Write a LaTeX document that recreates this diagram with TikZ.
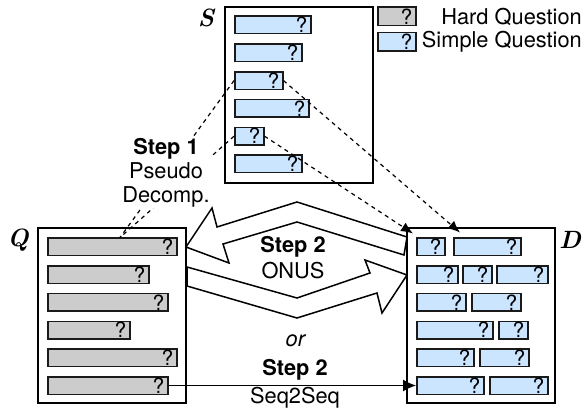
\documentclass[tikz,border=0pt]{standalone}
\usepackage{fontspec}
\setsansfont{TeX Gyre Heros}
\usetikzlibrary{arrows.meta,calc}
\definecolor{hardgray}{HTML}{CCCCCC}
\definecolor{simpleblue}{HTML}{CCE5FF}
\definecolor{barline}{HTML}{1A1A1A}
\begin{document}
\begin{tikzpicture}[x=1pt,y=-1pt,
  txt/.style={font=\sffamily\fontsize{21.8}{24}\selectfont, inner sep=0pt},
  panel/.style={draw=black, line width=1.5pt, fill=white, minimum width=148pt, minimum height=175pt, inner sep=0pt},
  bar/.style={draw=barline, line width=1.5pt, minimum height=17.5pt, inner sep=0pt, anchor=west, label={[qm]east:?}},
  qm/.style={anchor=east, xshift=-4pt, inner sep=0pt, font=\sffamily\fontsize{21}{22}\selectfont},
  hq/.style={bar, fill=hardgray, minimum width=#1},
  sq/.style={bar, fill=simpleblue, minimum width=#1},
  dashline/.style={line width=1.2pt, dash pattern=on 4pt off 4pt},
  tip/.style={-{Latex[length=12pt,width=10pt]}},
  bigarrow/.style={draw=black, line width=1.5pt, fill=white, line join=miter},
  setlabel/.style={font=\rmfamily\bfseries\itshape\fontsize{25}{27}\selectfont, inner sep=0pt},
]
\useasboundingbox (0,0) rectangle (586,411);

% panels
\node[panel, minimum height=176pt] (S) at (299,95) {};
\node[panel] (Q) at (112,315.5) {};
\node[panel] (D) at (481,315.5) {};

\node[setlabel] (Slab) at (206,18) {S};
\node[setlabel] (Qlab) at (18,240) {Q};
\node[setlabel] (Dlab) at (570,240) {D};

% S bars
\node[sq=76pt] (s1) at (234,25) {};
\node[sq=67pt] (s2) at (234,52.8) {};
\node[sq=48pt] (s3) at (234,80.6) {};
\node[sq=74pt] (s4) at (234,108.4) {};
\node[sq=29pt] (s5) at (234,136.2) {};
\node[sq=67pt] (s6) at (234,164) {};

% Q bars
\node[hq=129pt] (q1) at (47,247) {};
\node[hq=101pt] (q2) at (47,274.7) {};
\node[hq=120pt] (q3) at (47,302.4) {};
\node[hq=82pt] (q4) at (47,330.1) {};
\node[hq=129pt] (q5) at (47,357.8) {};
\node[hq=120pt] (q6) at (47,385.5) {};

% D bars
\node[sq=28pt] (d11) at (416,247) {};
\node[sq=67pt] (d12) at (453,247) {};
\node[sq=41pt] (d21) at (416,274.7) {};
\node[sq=29pt] (d22) at (462,274.7) {};
\node[sq=51pt] (d23) at (496,274.7) {};
\node[sq=49pt] (d31) at (416,302.4) {};
\node[sq=49pt] (d32) at (471,302.4) {};
\node[sq=76pt] (d41) at (416,330.1) {};
\node[sq=29pt] (d42) at (498,330.1) {};
\node[sq=57pt] (d51) at (416,357.8) {};
\node[sq=49pt] (d52) at (479,357.8) {};
\node[sq=67pt] (d61) at (416,385.5) {};
\node[sq=58pt] (d62) at (489,385.5) {};

% legend
\node[hq=38pt, minimum height=18.5pt] (lh) at (377,16.5) {};
\node[sq=38pt, minimum height=18.5pt] (ls) at (377,42) {};
\node[txt, anchor=east] (lht) at (582,17) {Hard Question};
\node[txt, anchor=east] (lst) at (582,42) {Simple Question};

% big ONUS arrows
\draw[bigarrow] (186,247) -- (212,208) -- (217,227) -- (297,202) -- (407,237) -- (404,255) -- (297,222) -- (223,244) -- (229,263) -- cycle;
\draw[bigarrow] (187,267) -- (297,298) -- (370,273) -- (365,260) -- (407,275) -- (382,313) -- (377,293) -- (297,318) -- (187,286) -- cycle;

% dashed decomposition lines
\coordinate (qtop) at ([xshift=73pt]q1.north west);
\draw[dashline] (s3.west) -- (qtop);
\draw[dashline] (s5.west) -- (qtop);
\draw[dashline, tip] (s3.east) -- ([xshift=7pt,yshift=5pt]d12.north west);
\draw[dashline, tip] (s5.east) -- ([xshift=-3pt,yshift=4pt]d11.north west);

% Step 1 text
\node[txt, fill=white, align=center, anchor=north, inner sep=1pt] (step1) at (166,137) {\textbf{Step 1}\\Pseudo\\Decomp.};

% Step 2 ONUS text
\node[txt, align=center, anchor=north, font=\sffamily\fontsize{21.8}{26}\selectfont] (step2a) at (293,236) {\textbf{Step 2}\\ONUS};

% Seq2Seq
\draw[line width=1.3pt, -{Latex[length=13pt,width=12pt]}] (q6.east) -- (d61.west);
\node[txt, anchor=base] (ortxt) at (296,347) {\textit{or}};
\node[txt, anchor=base] (step2b) at (295,375) {\textbf{Step 2}};
\node[txt, anchor=base] (s2s) at (295,403) {Seq2Seq};
\end{tikzpicture}
\end{document}
